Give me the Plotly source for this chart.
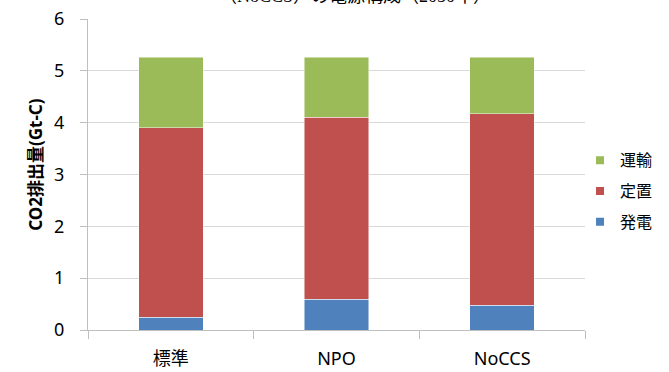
import plotly.graph_objects as go

# Scenarios and CO2 emissions by sector (Gt-C)
scenarios = ["標準", "NPO", "NoCCS"]
power = [0.25, 0.59, 0.48]        # 発電
stationary = [3.65, 3.51, 3.69]   # 定置
transport = [1.36, 1.16, 1.09]    # 運輸

series = [
    ("発電", power, "#4F81BD"),
    ("定置", stationary, "#C0504D"),
    ("運輸", transport, "#9BBB59"),
]

y_ticks = [0, 1, 2, 3, 4, 5, 6]

W, H = 669, 372
L, R, T, B = 88, 84, 19, 41.5
PH = H - T - B

fig = go.Figure()
for name, vals, color in series:
    fig.add_trace(go.Bar(
        x=scenarios, y=vals, name=name, showlegend=False,
        marker=dict(color=color, line=dict(color="rgba(255,255,255,0.6)", width=0.8)),
        width=0.39,
    ))

# small square legend swatches, top of stack listed first
for name, vals, color in reversed(series):
    fig.add_trace(go.Scatter(
        x=[None], y=[None], name=name, mode="markers", legendgroup=name,
        marker=dict(symbol="square", size=8, color=color),
    ))

font_main = "Noto Sans, Noto Sans CJK JP, sans-serif"

fig.update_layout(
    width=W, height=H,
    margin=dict(l=L, r=R, t=T, b=B, autoexpand=False),
    barmode="stack",
    plot_bgcolor="white",
    paper_bgcolor="white",
    font=dict(family=font_main, color="#000000"),
    legend=dict(
        traceorder="grouped", x=0.99, xanchor="left", y=0.446, yanchor="middle",
        font=dict(size=16, family="Noto Sans CJK JP"), tracegroupgap=7,
        itemwidth=30, bgcolor="rgba(0,0,0,0)",
    ),
    xaxis=dict(
        showline=True, linecolor="#BFBFBF", linewidth=1, automargin=False,
        ticks="outside", tickson="boundaries", ticklen=8, tickcolor="#BFBFBF",
        tickfont=dict(size=18, family=font_main), ticklabelstandoff=12,
        showgrid=False,
    ),
    yaxis=dict(
        range=[0, 6], tickvals=y_ticks, ticktext=[str(v) for v in y_ticks],
        showline=True, linecolor="#BFBFBF", linewidth=1, automargin=False,
        ticks="outside", ticklen=7, tickcolor="#BFBFBF",
        tickfont=dict(size=18, family=font_main), ticklabelstandoff=12,
        showgrid=True, gridcolor="#D9D9D9", gridwidth=1, zeroline=False,
    ),
    annotations=[
        dict(text="<b>CO2排出量(Gt-C)</b>", textangle=-90,
             xref="paper", yref="paper", x=(36 - L) / (W - L - R), y=(H - B - 165) / PH,
             xanchor="center", yanchor="middle", showarrow=False,
             font=dict(size=17, family=font_main)),
        dict(text="（NoCCS）の電源構成（2050年）",
             xref="paper", yref="paper", x=(355 - L) / (W - L - R), y=1 + 11 / PH,
             xanchor="center", yanchor="bottom", showarrow=False,
             font=dict(size=18, family="Liberation Serif, Noto Sans CJK JP, serif")),
    ],
)

fig.write_html("out.html")
